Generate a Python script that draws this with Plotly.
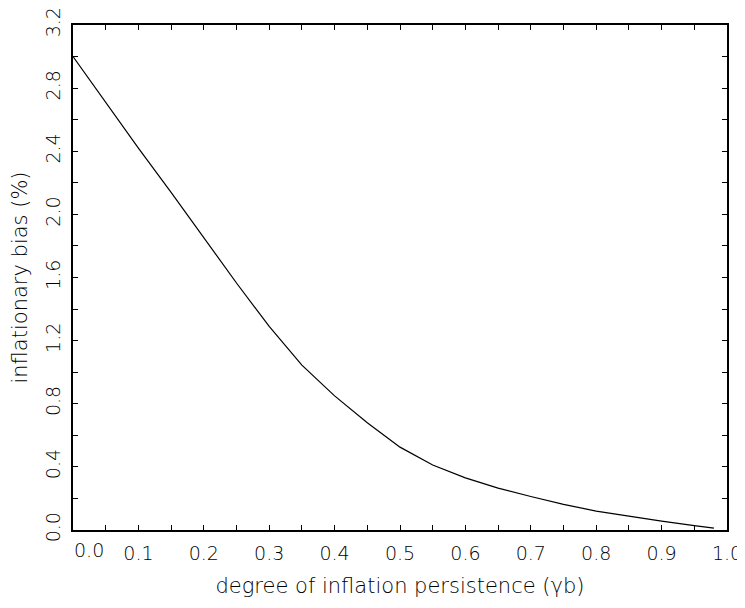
import plotly.graph_objects as go

persistence = [0.00, 0.05, 0.10, 0.15, 0.20, 0.25, 0.30, 0.35, 0.40, 0.45,
               0.50, 0.55, 0.60, 0.65, 0.70, 0.75, 0.80, 0.85, 0.90, 0.95, 0.98]
bias = [3.00, 2.71, 2.42, 2.14, 1.855, 1.565, 1.29, 1.045, 0.85, 0.68,
        0.525, 0.412, 0.33, 0.265, 0.212, 0.162, 0.12, 0.086, 0.056, 0.028, 0.012]

x_ticks = [0.1, 0.2, 0.3, 0.4, 0.5, 0.6, 0.7, 0.8, 0.9, 1.0]
x_ticktext = ["0.1", "0.2", "0.3", "0.4", "0.5", "0.6", "0.7", "0.8", "0.9", "1.0"]
y_ticks = [0.0, 0.4, 0.8, 1.2, 1.6, 2.0, 2.4, 2.8, 3.2]
y_ticktext = ["0.0", "0.4", "0.8", "1.2", "1.6", "2.0", "2.4", "2.8", "3.2"]

FONT = "DejaVu Sans"

fig = go.Figure()
fig.add_trace(go.Scatter(x=persistence, y=bias, mode="lines",
                         line=dict(color="black", width=1.2), showlegend=False))

axis_common = dict(
    showline=True, linecolor="black", linewidth=2, mirror="ticks",
    ticks="inside", ticklen=5, tickwidth=1, tickcolor="black",
    showgrid=False, zeroline=False, automargin=False,
    ticklabeloverflow="allow",
    tickfont=dict(family=FONT, size=19, color="black", weight=300),
)

fig.update_xaxes(
    range=[0, 1.0], tickvals=x_ticks, ticktext=x_ticktext,
    minor=dict(dtick=0.05, tick0=0, ticks="inside", ticklen=5, tickcolor="black"),
    title=dict(text="degree of inflation persistence (γb)",
               font=dict(family=FONT, size=21, color="black", weight=300), standoff=16),
    ticklabelstandoff=5,
    **axis_common,
)
fig.update_yaxes(
    range=[0, 3.2], tickvals=y_ticks, ticktext=y_ticktext, tickangle=-90,
    minor=dict(dtick=0.2, tick0=0, ticks="inside", ticklen=5, tickcolor="black"),
    title=dict(text="inflationary bias (%)",
               font=dict(family=FONT, size=21, color="black", weight=300), standoff=10),
    ticklabelstandoff=3,
    **axis_common,
)

fig.add_annotation(x=0.025, y=0, xref="x", yref="paper", text="0.0",
                   showarrow=False, yanchor="middle", yshift=-20,
                   font=dict(family=FONT, size=19, color="black", weight=300))

fig.update_layout(
    width=737, height=600,
    margin=dict(l=65, r=18, t=17, b=78),
    plot_bgcolor="white", paper_bgcolor="white",
)

fig.write_html("out.html")
